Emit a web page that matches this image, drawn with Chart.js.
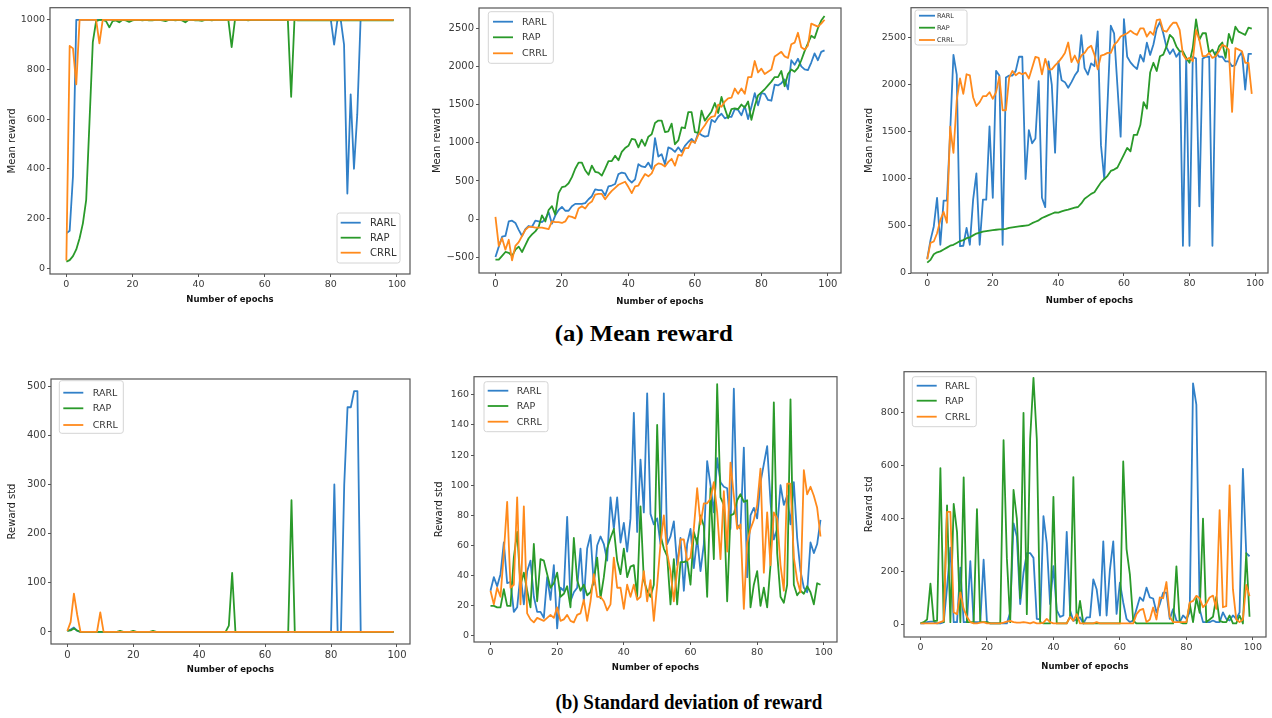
<!DOCTYPE html>
<html>
<head>
<meta charset="utf-8">
<script src="https://cdn.jsdelivr.net/npm/chart.js@4.4.1/dist/chart.umd.min.js"></script>
<style>
  html, body { margin: 0; padding: 0; background: #fff; }
  body { width: 1272px; height: 718px; position: relative; overflow: hidden; }
  canvas { position: absolute; }
  .cap { position: absolute; width: 600px; text-align: center; font-family: "Liberation Serif", "Times New Roman", serif; font-weight: bold; color: #000; line-height: 1; white-space: nowrap; }
  .cap span { display: inline-block; transform-origin: center; }
</style>
</head>
<body>
<div class="cap" id="capA" style="left:344px; top:322px; font-size:23px;"><span data-w="178">(a) Mean reward</span></div>
<div class="cap" id="capB" style="left:389px; top:692px; font-size:20px;"><span data-w="267">(b) Standard deviation of reward</span></div>
<script>
// ===== Data =====
const seriesNames = ['RARL', 'RAP', 'CRRL'];
const epochs = [
  0,1,2,3,4,5,6,7,8,9, 10,11,12,13,14,15,16,17,18,19,
  20,21,22,23,24,25,26,27,28,29, 30,31,32,33,34,35,36,37,38,39,
  40,41,42,43,44,45,46,47,48,49, 50,51,52,53,54,55,56,57,58,59,
  60,61,62,63,64,65,66,67,68,69, 70,71,72,73,74,75,76,77,78,79,
  80,81,82,83,84,85,86,87,88,89, 90,91,92,93,94,95,96,97,98,99
];
const xTicks = [0, 20, 40, 60, 80, 100];
const yTicksMean1 = [0, 200, 400, 600, 800, 1000];
const yTicksMean2 = [-500, 0, 500, 1000, 1500, 2000, 2500];
const yTicksMean3 = [0, 500, 1000, 1500, 2000, 2500];
const yTicksStd1 = [0, 100, 200, 300, 400, 500];
const yTicksStd2 = [0, 20, 40, 60, 80, 100, 120, 140, 160];
const yTicksStd3 = [0, 200, 400, 600, 800];

// (a) mean reward, left panel
const mr1Rarl = [
  140,150,370,1000,1000,1000,1000,1000,1000,1000,
  1000,1000,1000,1000,1000,1000,1000,1000,1000,1000,
  1000,1000,1000,1000,1000,1000,1000,1000,1000,1000,
  1000,1000,1000,1000,1000,1000,1000,1000,1000,1000,
  1000,1000,1000,1000,1000,1000,1000,1000,1000,1000,
  1000,1000,1000,1000,1000,1000,1000,1000,1000,1000,
  1000,1000,1000,1000,1000,1000,1000,1000,1000,1000,
  1000,1000,1000,1000,1000,1000,1000,1000,1000,1000,
  1000,900,1000,1000,900,300,700,400,620,1000,
  1000,1000,1000,1000,1000,1000,1000,1000,1000,1000
];
const mr1Rap = [
  26,32,48,75,120,180,275,590,910,995,
  1000,1000,995,970,995,998,990,1000,998,992,
  998,1000,1000,998,1000,998,998,1000,1000,998,
  995,1000,1000,998,1000,998,990,1000,1000,998,
  998,996,1000,1000,998,1000,1000,1000,1000,1000,
  890,1000,1000,1000,1000,998,1000,1000,1000,1000,
  1000,1000,1000,1000,1000,1000,1000,1000,690,1000,
  998,998,998,998,998,998,998,998,998,998,
  998,998,998,998,998,998,998,998,998,998,
  998,998,998,998,998,998,998,998,998,998
];
const mr1Crrl = [
  30,895,885,740,1000,1000,1000,1000,1000,1000,
  905,1000,1000,1000,1000,1000,1000,1000,1000,1000,
  1000,1000,1000,1000,1000,1000,1000,1000,1000,1000,
  1000,1000,1000,1000,1000,1000,1000,1000,1000,1000,
  1000,1000,1000,1000,1000,1000,1000,1000,1000,1000,
  1000,1000,1000,1000,1000,1000,1000,1000,1000,1000,
  1000,1000,1000,1000,1000,1000,1000,1000,1000,1000,
  1000,1000,1000,1000,1000,1000,1000,1000,1000,1000,
  1000,1000,1000,1000,1000,1000,1000,1000,1000,1000,
  1000,1000,1000,1000,1000,1000,1000,1000,1000,1000
];

// (a) mean reward, middle panel
const mr2Rarl = [
  -495,-360,-230,-220,-30,-20,-50,-140,-220,-130,
  -90,-100,-20,-30,-40,0,90,-60,50,120,
  160,110,110,170,200,200,200,210,260,300,
  390,380,380,310,430,440,460,590,610,600,
  520,480,520,720,690,680,740,660,1060,820,
  850,720,940,920,880,940,880,960,1010,1050,
  1000,1130,1100,1080,1090,1300,1270,1340,1380,1320,
  1340,1340,1440,1430,1360,1480,1310,1470,1650,1490,
  1650,1640,1560,1550,1760,1750,1780,1830,1700,2080,
  2020,2100,2000,1960,1950,2050,2170,2080,2190,2210
];
const mr2Rap = [
  -530,-530,-480,-430,-440,-480,-400,-360,-430,-340,
  -250,-200,-160,-100,50,-30,120,170,60,340,
  420,430,470,550,660,740,740,640,580,700,
  620,610,570,660,760,760,830,770,880,930,
  960,1050,1040,940,1040,960,1080,1110,1260,1290,
  1290,1140,1150,1250,980,1030,1200,1190,1400,1400,
  1140,1130,1420,1290,1350,1410,1520,1390,1600,1450,
  1320,1440,1450,1440,1500,1460,1540,1300,1480,1620,
  1660,1700,1750,1800,1860,1860,1940,1740,1900,1960,
  1930,1980,2080,2200,2300,2400,2370,2500,2600,2660
];
const mr2Crrl = [
  30,-350,-250,-400,-270,-540,-350,-300,-220,-140,
  -100,-100,-110,-110,-110,-120,-130,-30,-40,-40,
  -50,-30,40,30,10,140,170,140,200,230,
  320,330,330,260,320,370,410,450,470,490,
  420,340,430,440,520,590,560,600,700,730,
  720,690,750,790,700,840,830,930,930,1020,
  1000,1100,1170,1230,1300,1340,1350,1500,1470,1540,
  1580,1590,1710,1640,1710,1640,1860,1860,2070,1920,
  1970,1900,1930,1960,2130,2160,2190,2130,2110,2290,
  2310,2440,2250,2220,2270,2560,2540,2520,2560,2610
];

// (a) mean reward, right panel
const mr3Rarl = [
  150,350,495,800,300,770,770,1500,2320,2110,
  285,290,480,300,780,1060,300,780,780,1560,
  800,2150,2100,300,2080,2100,2100,2150,2300,2300,
  1000,1520,1380,1430,2040,800,700,2250,2000,1280,
  2250,2050,2030,1970,2030,2100,2150,2530,2180,2110,
  2230,2200,2570,1360,1000,1800,2630,2550,2000,1450,
  2700,2300,2240,2200,2170,2320,2250,2450,2320,2430,
  2600,2670,2550,2400,2330,2380,2300,2350,290,2290,
  290,2300,2280,710,2280,2300,2300,290,2350,2300,
  2300,2250,2250,2200,2210,2300,2350,1950,2330,2330
];
const mr3Rap = [
  110,140,200,220,230,250,270,290,300,320,
  340,350,370,380,400,420,430,440,445,450,
  455,460,465,465,470,480,485,490,495,500,
  505,510,530,545,560,585,600,615,630,645,
  643,655,665,674,685,695,702,740,789,815,
  842,859,911,964,1000,1034,1086,1100,1121,1190,
  1260,1330,1295,1469,1469,1574,1818,1748,2132,2236,
  2149,2306,2323,2410,2533,2498,2410,2358,2358,2288,
  2236,2393,2697,2480,2550,2550,2341,2376,2306,2410,
  2452,2288,2543,2446,2620,2567,2550,2533,2610,2600
];
const mr3Crrl = [
  145,320,335,423,563,650,535,1557,1278,1835,
  2069,1905,2114,2103,1870,1776,1818,1881,1881,1923,
  1853,1923,2089,1731,1731,2079,2149,2103,2131,2114,
  2131,2069,2184,2299,2288,2114,2278,2166,2166,2208,
  2243,2288,2341,2452,2243,2313,2236,2313,2341,2393,
  2418,2323,2166,2313,2323,2341,2341,2427,2462,2515,
  2533,2550,2578,2550,2533,2602,2602,2515,2567,2533,
  2690,2697,2578,2567,2620,2662,2662,2585,2323,2271,
  2288,2253,2585,2480,2306,2306,2341,2288,2306,2358,
  2427,2410,2376,1713,2393,2376,2358,2236,2236,1905
];

// (b) reward std, left panel
const sd1Rarl = [
  2,5,9,2,0,0,0,0,0,0,
  0,0,0,0,0,0,0,0,0,0,
  0,0,0,0,0,0,0,0,0,0,
  0,0,0,0,0,0,0,0,0,0,
  0,0,0,0,0,0,0,0,0,0,
  0,0,0,0,0,0,0,0,0,0,
  0,0,0,0,0,0,0,0,0,0,
  0,0,0,0,0,0,0,0,0,0,
  0,300,0,0,300,457,457,490,490,0,
  0,0,0,0,0,0,0,0,0,0
];
const sd1Rap = [
  2,3,7,3,0,0,0,0,0,0,
  0,0,0,0,0,0,2,0,0,0,
  2,0,0,0,0,0,2,0,0,0,
  0,0,0,0,0,0,0,0,0,0,
  0,0,0,0,0,0,0,0,0,13,
  120,0,0,0,0,0,0,0,0,0,
  0,0,0,0,0,0,0,0,268,0,
  0,0,0,0,0,0,0,0,0,0,
  0,0,0,0,0,0,0,0,0,0,
  0,0,0,0,0,0,0,0,0,0
];
const sd1Crrl = [
  2,20,78,35,0,0,0,0,0,0,
  40,0,0,0,0,0,0,0,0,0,
  0,0,0,0,0,0,0,0,0,0,
  0,0,0,0,0,0,0,0,0,0,
  0,0,0,0,0,0,0,0,0,0,
  0,0,0,0,0,0,0,0,0,0,
  0,0,0,0,0,0,0,0,0,0,
  0,0,0,0,0,0,0,0,0,0,
  0,0,0,0,0,0,0,0,0,0,
  0,0,0,0,0,0,0,0,0,0
];

// (b) reward std, middle panel
const sd2Rarl = [
  30,39,33,41,62,35,36,16,19,41,
  21,43,50,26,16,16,12,39,24,47,
  5,32,30,79,23,29,32,58,23,58,
  67,34,60,66,61,50,92,71,92,62,
  75,56,78,148,69,117,82,161,81,74,
  78,61,161,61,66,76,47,65,30,61,
  71,45,65,43,61,116,100,82,118,102,
  99,98,71,164,74,71,125,39,80,85,
  78,102,114,126,89,64,71,100,87,93,
  74,102,65,43,32,29,62,55,61,77
];
const sd2Rap = [
  20,20,19,19,31,20,20,52,69,34,
  42,30,19,61,23,51,50,41,32,35,
  42,26,28,33,19,65,37,30,34,27,
  29,37,52,25,39,58,65,71,50,41,
  58,39,46,47,26,86,37,30,26,34,
  140,67,58,53,21,51,21,49,49,50,
  34,69,61,80,73,26,98,51,167,92,
  87,23,80,81,90,94,89,90,19,34,
  43,20,32,19,47,155,55,26,22,34,
  157,34,27,30,28,33,29,21,35,34
];
const sd2Crrl = [
  30,21,32,26,55,89,32,34,92,21,
  86,15,11,9,12,11,10,12,14,12,
  19,10,11,14,10,9,14,15,24,10,
  23,41,26,26,23,17,21,52,32,32,
  18,34,26,34,24,26,43,23,37,10,
  34,61,80,55,43,23,44,64,64,50,
  52,71,98,74,88,88,91,102,82,51,
  96,56,115,93,71,74,18,62,71,77,
  87,111,42,82,47,82,78,47,30,101,
  101,52,37,29,110,94,99,93,85,66
];

// (b) reward std, right panel
const sd3Rarl = [
  5,5,10,12,12,5,5,10,140,290,
  10,10,215,10,10,240,10,10,10,245,
  10,5,5,5,5,5,5,47,382,332,
  78,196,270,270,252,22,20,409,308,78,
  221,55,30,35,350,55,15,20,28,5,
  28,28,171,134,35,314,35,208,314,41,
  159,84,22,10,16,59,103,90,140,103,
  99,47,78,121,121,22,59,16,10,35,
  22,47,909,829,59,10,10,10,16,10,
  10,47,22,16,35,22,47,587,270,258
];
const sd3Rap = [
  5,10,20,155,15,15,590,10,450,10,
  455,350,10,555,10,10,10,435,10,10,
  10,5,5,5,5,695,250,10,508,400,
  100,798,40,700,930,700,10,5,5,5,
  482,5,5,5,5,30,556,5,90,5,
  5,5,5,5,5,5,5,5,5,5,
  5,615,285,190,15,5,5,5,5,5,
  5,5,5,5,5,5,5,220,10,5,
  5,80,10,100,45,400,10,20,30,105,
  15,10,10,35,5,5,35,5,270,30
];
const sd3Crrl = [
  5,5,5,5,5,5,10,15,425,425,
  47,40,122,60,30,10,5,5,8,10,
  5,5,5,5,5,8,12,15,10,8,
  8,10,8,5,10,5,5,8,22,10,
  5,5,5,5,5,30,15,40,5,5,
  5,5,5,10,5,5,5,5,5,5,
  5,5,5,5,5,40,55,60,10,20,
  65,20,103,100,161,30,10,10,10,10,
  10,84,90,109,100,66,80,103,110,60,
  432,66,70,525,134,20,10,20,150,107
];

const colors = ['#3180c8', '#2a9a2a', '#ff8a1c'];

// ===== Panel layout (frame = plot box in page pixels) =====
const Y_AXIS_W = 50, X_AXIS_H = 40, PAD_TOP = 4, PAD_RIGHT = 6;
const panels = [
  { frame: [50, 4, 410, 274], y: [-24, 1049], yTicks: yTicksMean1, yTitle: 'Mean reward',
    data: [mr1Rarl, mr1Rap, mr1Crrl], tickSize: 9.5, yTitlePad: 6.7, xTitlePad: 9.4,
    legend: { box: [337, 213, 63, 50], rows: [222.7, 237.7, 252.7], line: [340.7, 360.7], text: 370, fs: 10 } },
  { frame: [479, 4, 841, 273], y: [-705, 2764], yTicks: yTicksMean2, yTitle: 'Mean reward',
    data: [mr2Rarl, mr2Rap, mr2Crrl], tickSize: 10, yTitlePad: 2.7, xTitlePad: 6.2,
    legend: { box: [488.3, 11.7, 65, 51.6], rows: [21.7, 37.3, 53.3], line: [493, 513], text: 522, fs: 9.5 } },
  { frame: [911, 4, 1268, 273], y: [0, 2822], yTicks: yTicksMean3, yTitle: 'Mean reward',
    data: [mr3Rarl, mr3Rap, mr3Crrl], tickSize: 9.5, yTitlePad: 2, xTitlePad: 6.9,
    legend: { box: [915, 10, 52, 35], rows: [15.7, 27.7, 40], line: [919, 935], text: 937, fs: 6.5 } },
  { frame: [51, 375, 410, 644], y: [-24.5, 514.5], yTicks: yTicksStd1, yTitle: 'Reward std',
    data: [sd1Rarl, sd1Rap, sd1Crrl], tickSize: 10, yTitlePad: 5.7, xTitlePad: 8.9,
    legend: { box: [59.3, 380.7, 64, 52.6], rows: [392.7, 408.3, 425], line: [63.3, 83.3], text: 92.7, fs: 9.5 } },
  { frame: [474, 373, 837, 642], y: [-4, 172], yTicks: yTicksStd2, yTitle: 'Reward std',
    data: [sd2Rarl, sd2Rap, sd2Crrl], tickSize: 9.5, yTitlePad: 9, xTitlePad: 9.2,
    legend: { box: [484, 381.7, 64, 50], rows: [390.7, 406, 421.7], line: [487.7, 508.3], text: 516.7, fs: 9.5 } },
  { frame: [904, 368, 1266, 637], y: [-46, 953], yTicks: yTicksStd3, yTitle: 'Reward std',
    data: [sd3Rarl, sd3Rap, sd3Crrl], tickSize: 9.5, yTitlePad: 9, xTitlePad: 5.2,
    legend: { box: [912.3, 376.7, 64, 50], rows: [385.7, 400.7, 416.7], line: [916.7, 936.7], text: 945, fs: 9.5 } }
];

// frame box + matplotlib-style legend drawn inside the plot area
const boxLegend = {
  id: 'boxLegend',
  afterDraw(chart, args, o) {
    const { ctx, chartArea: a } = chart;
    ctx.save();
    ctx.strokeStyle = '#555';
    ctx.lineWidth = 1.2;
    ctx.strokeRect(a.left, a.top, a.right - a.left, a.bottom - a.top);

    const lg = o.legend, ox = o.ox, oy = o.oy;
    const [bx, by, bw, bh] = [lg.box[0] - ox, lg.box[1] - oy, lg.box[2], lg.box[3]];
    const r = 2.5;
    ctx.beginPath();
    ctx.moveTo(bx + r, by);
    ctx.arcTo(bx + bw, by, bx + bw, by + bh, r);
    ctx.arcTo(bx + bw, by + bh, bx, by + bh, r);
    ctx.arcTo(bx, by + bh, bx, by, r);
    ctx.arcTo(bx, by, bx + bw, by, r);
    ctx.closePath();
    ctx.fillStyle = 'rgba(255,255,255,0.85)';
    ctx.fill();
    ctx.strokeStyle = '#d4d4d4';
    ctx.lineWidth = 1;
    ctx.stroke();

    ctx.font = lg.fs + 'px "DejaVu Sans"';
    ctx.textBaseline = 'middle';
    ctx.textAlign = 'left';
    chart.data.datasets.forEach((ds, i) => {
      const yy = lg.rows[i] - oy;
      ctx.strokeStyle = ds.borderColor;
      ctx.lineWidth = 1.8;
      ctx.beginPath();
      ctx.moveTo(lg.line[0] - ox, yy);
      ctx.lineTo(lg.line[1] - ox, yy);
      ctx.stroke();
      ctx.fillStyle = '#333';
      ctx.fillText(ds.label, lg.text - ox, yy + 0.5);
    });
    ctx.restore();
  }
};

const fixTicks = values => s => { s.ticks = values.map(v => ({ value: v })); };
const fmt = v => (v < 0 ? '\u2212' + Math.abs(v) : String(v));

panels.forEach(p => {
  const [L, T, R, B] = p.frame;
  const left = L - Y_AXIS_W, top = T - PAD_TOP;
  const w = (R - L) + Y_AXIS_W + PAD_RIGHT, h = (B - T) + PAD_TOP + X_AXIS_H;
  const cv = document.createElement('canvas');
  cv.width = w; cv.height = h;
  cv.style.left = left + 'px'; cv.style.top = top + 'px';
  cv.style.width = w + 'px'; cv.style.height = h + 'px';
  document.body.appendChild(cv);

  const tickFont = { family: 'DejaVu Sans', size: p.tickSize };
  new Chart(cv.getContext('2d'), {
    type: 'line',
    data: {
      labels: epochs,
      datasets: p.data.map((d, i) => ({
        label: seriesNames[i],
        data: d,
        borderColor: colors[i],
        borderWidth: 1.8,
        pointRadius: 0,
        tension: 0,
        fill: false,
        borderJoinStyle: 'round',
        order: 3 - i
      }))
    },
    options: {
      responsive: false,
      animation: false,
      devicePixelRatio: 1,
      layout: { padding: { top: PAD_TOP, right: PAD_RIGHT, left: 0, bottom: 0 } },
      scales: {
        x: {
          type: 'linear', min: -4.95, max: 103.95,
          afterBuildTicks: fixTicks(xTicks),
          afterFit: s => { s.height = X_AXIS_H; },
          ticks: { font: tickFont, color: '#3a3a3a', padding: 2, maxRotation: 0, autoSkip: false, callback: fmt },
          grid: { drawOnChartArea: false, drawTicks: true, tickLength: 3, color: '#555' },
          border: { display: false },
          title: { display: true, text: 'Number of epochs', color: '#111',
                   font: { family: 'DejaVu Sans', size: 8.5, weight: 'bold' },
                   padding: { top: 0, bottom: p.xTitlePad } }
        },
        y: {
          min: p.y[0], max: p.y[1],
          afterBuildTicks: fixTicks(p.yTicks),
          afterFit: s => { s.width = Y_AXIS_W; },
          ticks: { font: tickFont, color: '#3a3a3a', padding: 2, autoSkip: false, callback: fmt },
          grid: { drawOnChartArea: false, drawTicks: true, tickLength: 3, color: '#555' },
          border: { display: false },
          title: { display: true, text: p.yTitle, color: '#222',
                   font: { family: 'DejaVu Sans', size: 10 },
                   padding: { top: p.yTitlePad, bottom: 0 } }
        }
      },
      plugins: {
        legend: { display: false },
        tooltip: { enabled: false },
        boxLegend: { legend: p.legend, ox: left, oy: top }
      }
    },
    plugins: [boxLegend]
  });
});

// stretch the captions to the widths in the figure
document.querySelectorAll('.cap span').forEach(s => {
  const k = Number(s.dataset.w) / s.getBoundingClientRect().width;
  s.style.transform = 'scaleX(' + k.toFixed(3) + ')';
});
</script>
</body>
</html>
